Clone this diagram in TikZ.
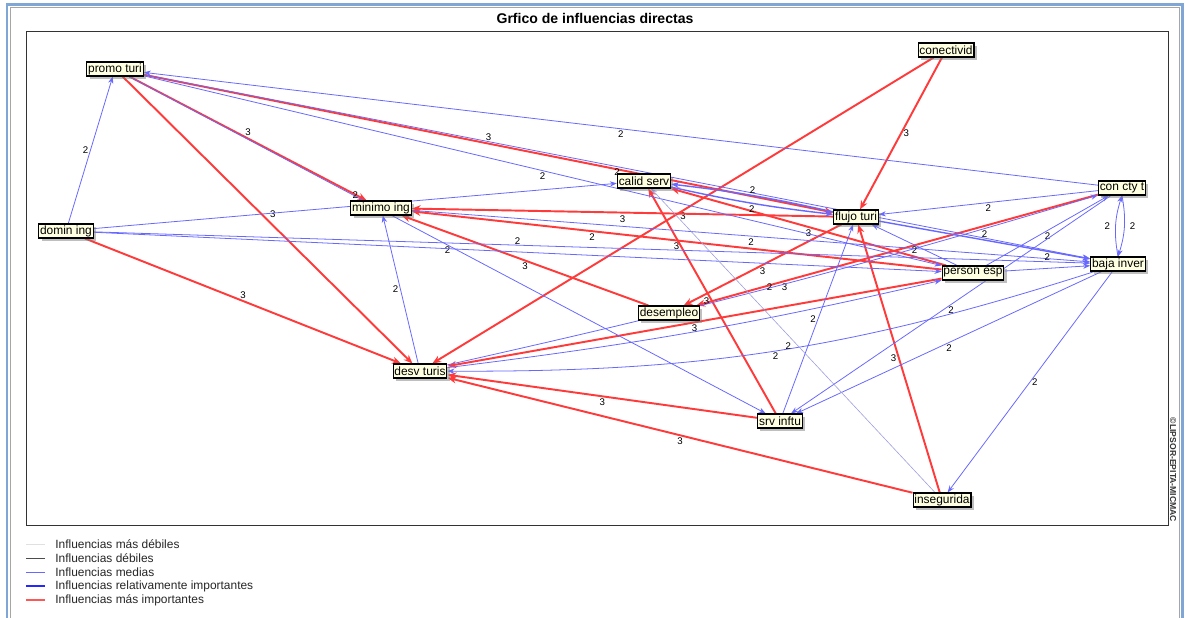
\documentclass[tikz,border=0pt]{standalone}
\usepackage{fontspec}
\setmainfont{Liberation Sans}
\usetikzlibrary{arrows.meta, shadows}
\definecolor{rojo}{RGB}{255,58,58}
\definecolor{azul}{RGB}{104,104,255}
\definecolor{azulclaro}{RGB}{160,160,225}
\definecolor{marco}{RGB}{128,166,214}
\definecolor{fondo}{RGB}{255,255,226}
\pgfdeclarelayer{base}
\pgfdeclarelayer{aristas}
\pgfsetlayers{base,aristas,main}
\tikzset{
  caja/.style={draw=black, line width=0.6pt, fill=fondo, inner sep=0.8pt, minimum height=0.28cm,
    font=\fontsize{6.8}{7}\selectfont, drop shadow={shadow xshift=1.6pt, shadow yshift=-1.6pt, fill=black!50}},
  fuerte/.style={rojo, line width=1.1pt, -{Stealth[length=5pt, width=4pt]}},
  media/.style={azul, line width=0.45pt, -{Stealth[length=4pt, width=3pt]}},
  relat/.style={azul, line width=0.8pt, -{Stealth[length=4.5pt, width=3.5pt]}},
  debil/.style={azulclaro, line width=0.35pt, -{Stealth[length=3.5pt, width=2.5pt]}},
  lbl/.style={font=\fontsize{5.5}{6}\selectfont, inner sep=1pt, midway, text=black},
  leyenda/.style={font=\fontsize{6.8}{7}\selectfont, anchor=west, text=black!85, inner sep=0pt}
}

\begin{document}
\begin{tikzpicture}[x=0.02cm, y=-0.02cm]
        \useasboundingbox (0,0) rectangle (1188,618);
        \begin{pgfonlayer}{base}
        \fill[white] (0,0) rectangle (1188,618);
        \end{pgfonlayer}
        \draw[marco, line width=0.06cm] (7,618) |- (1182,5) -- (1182,618);
        \draw[black!35, line width=0.02cm] (10,618) |- (1179,8) -- (1179,618);
        \draw[black!80, line width=0.5pt] (26,31) rectangle (1168,525);

        \node[font=\bfseries\fontsize{8}{9}\selectfont] (titulo) at (595,18) {Grfico de influencias directas};
        \node[font=\bfseries\fontsize{4.9}{5}\selectfont, rotate=-90, text=black!80] (copy) at (1173,470) {©LIPSOR-EPITA-MICMAC};

        \node[caja] (promo) at (115,69) {promo turi};
        \node[caja] (conect) at (946,50) {conectivid};
        \node[caja] (calid) at (644,181) {calid serv};
        \node[caja] (minimo) at (381,208) {minimo ing};
        \node[caja] (flujo) at (856,217) {flujo turi};
        \node[caja] (concty) at (1122,188) {con cty t};
        \node[caja] (domin) at (66,231) {domin ing};
        \node[caja] (baja) at (1118,264) {baja inver};
        \node[caja] (person) at (973,273) {person esp};
        \node[caja] (desemp) at (669,313) {desempleo};
        \node[caja] (desv) at (420,371) {desv turis};
        \node[caja] (srv) at (780,421) {srv inftu};
        \node[caja] (insegur) at (942,500) {insegurida};

        \begin{pgfonlayer}{aristas}
        \draw[fuerte] (conect) -- node[lbl, right]{3} (flujo);
        \draw[fuerte] (conect) -- node[lbl, below]{3} (desv);
        \draw[fuerte] (promo) -- node[lbl, above]{3} (minimo);
        \draw[fuerte] (promo) -- node[lbl, above right]{3} (desv);
        \draw[fuerte] (promo) -- node[lbl, above]{3} (flujo);
        \draw[fuerte] (domin) -- node[lbl, above]{3} (desv);
        \draw[fuerte] (flujo) -- node[lbl, below]{3} (minimo);
        \draw[fuerte] (person) -- node[lbl, below]{3} (minimo);
        \draw[fuerte] (person) -- node[lbl, below]{3} (calid);
        \draw[fuerte] (desemp) -- node[lbl, below]{3} (minimo);
        \draw[fuerte] (flujo) -- node[lbl, below]{3} (desemp);
        \draw[fuerte] (concty) -- node[lbl, below, pos=0.78]{3} (desemp);
        \draw[fuerte] (person) -- node[lbl, below]{3} (desv);
        \draw[fuerte] (srv) -- node[lbl, below]{3} (desv);
        \draw[fuerte] (insegur) -- node[lbl, below]{3} (desv);
        \draw[fuerte] (srv) -- node[lbl, left]{3} (calid);
        \draw[fuerte] (insegur) -- node[lbl, left]{3} (flujo);

        \draw[media] (domin) -- node[lbl, left]{2} (promo);
        \draw[media] (concty) -- node[lbl, below]{2} (promo);
        \draw[media] (promo) -- node[lbl, below]{2} (srv);
        \draw[media] (domin) -- node[lbl, above=3pt]{2} (calid);
        \draw[media] (promo) -- node[lbl, below]{2} (person);
        \draw[media] (promo) -- node[lbl, below]{2} (baja);
        \draw[relat] (flujo) to[bend right=3] node[lbl, above]{2} (calid);
        \draw[relat] (calid) to[bend right=3] node[lbl, below]{2} (flujo);
        \draw[media] (domin) -- node[lbl, above=3pt]{2} (baja);
        \draw[media] (domin) -- node[lbl, above=3pt]{2} (person);
        \draw[media] (minimo) -- node[lbl, below]{2} (baja);
        \draw[media] (desv) to[bend right=2] node[lbl, left]{2} (concty);
        \draw[media] (desv) to[bend right=3] (person);
        \draw[media] (person) -- node[lbl, below]{2} (flujo);
        \draw[media] (concty) -- node[lbl, below]{2} (flujo);
        \draw[relat] (flujo) -- node[lbl, above]{2} (baja);
        \draw[media] (person) -- node[lbl, below]{2} (concty);
        \draw[media] (person) -- node[lbl, above=3pt]{2} (baja);
        \draw[media] (baja.north) to[bend left=14] node[lbl, left=2pt]{2} (concty.south);
        \draw[media] (concty.south) to[bend left=14] node[lbl, right=2pt]{2} (baja.north);
        \draw[media] (srv) -- node[lbl, left]{2} (flujo);
        \draw[media] (concty) -- node[lbl, below]{2} (srv);
        \draw[media] (baja) -- node[lbl, below]{2} (srv);
        \draw[media] (baja) to[bend left=9] node[lbl, below]{2} (desv);
        \draw[debil] (insegur) -- node[lbl, below left]{2} (calid);
        \draw[media] (baja) -- node[lbl, right]{2} (insegur);
        \draw[media] (desv) -- node[lbl, left]{2} (minimo);
        \end{pgfonlayer}

        \draw[black!12, line width=0.5pt] (26,544) -- (45,544);
        \draw[black!70, line width=0.4pt] (26,558) -- (45,558);
        \draw[azul, line width=0.5pt] (26,572) -- (45,572);
        \draw[blue!85, line width=1pt] (26,586) -- (45,586);
        \draw[rojo!85, line width=1.1pt] (26,600) -- (45,600);
        \node[leyenda] (ley1) at (55,544) {Influencias más débiles};
        \node[leyenda] (ley2) at (55,558) {Influencias débiles};
        \node[leyenda] (ley3) at (55,572) {Influencias medias};
        \node[leyenda] (ley4) at (55,586) {Influencias relativamente importantes};
        \node[leyenda] (ley5) at (55,600) {Influencias más importantes};
\end{tikzpicture}
\end{document}
